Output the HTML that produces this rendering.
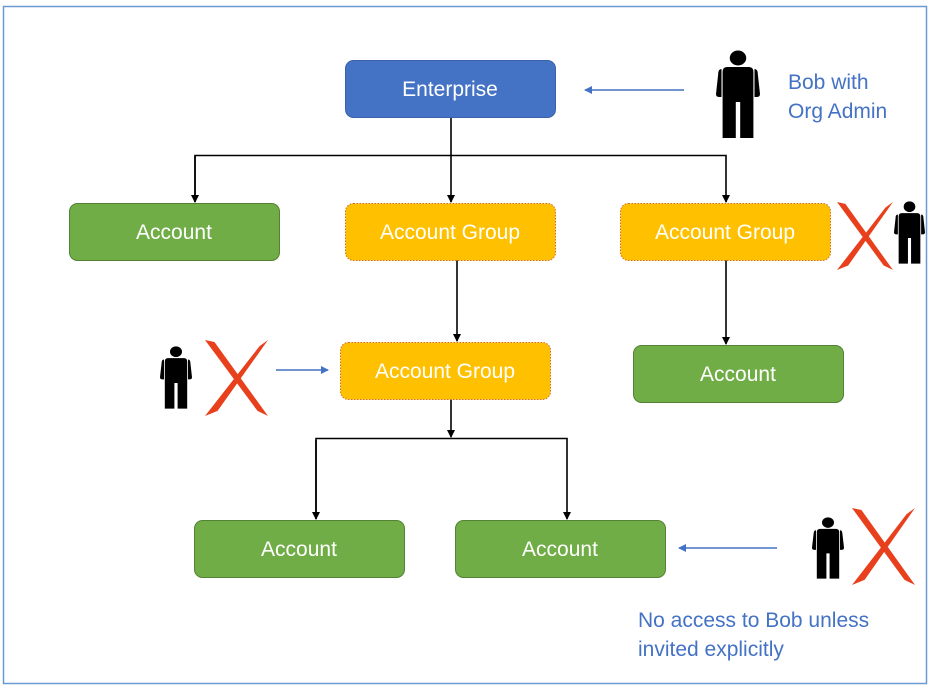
<!DOCTYPE html>
<html><head><meta charset="utf-8"><style>
html,body{margin:0;padding:0;background:#fff;}
svg{display:block;}
text{font-family:"Liberation Sans",sans-serif;}
</style></head><body>
<svg width="934" height="692" viewBox="0 0 934 692" xmlns="http://www.w3.org/2000/svg">
<defs>
<symbol id="p" viewBox="0 0 40 90" preserveAspectRatio="none">
<circle cx="20" cy="8" r="7.5" fill="#000"/>
<path d="M10,17 H30 Q34,17 34,22 L34,88 L22,88 L22,52 L18,52 L18,88 L6,88 L6,22 Q6,17 10,17 Z" fill="#000"/>
<path d="M5,19 Q2,19 2,24 L0,44 Q0,47 3,47 L5,47 Z M35,19 Q38,19 38,24 L40,44 Q40,47 37,47 L35,47 Z" fill="#000"/>
</symbol>
<symbol id="x" viewBox="0 0 60 75" preserveAspectRatio="none">
<polygon points="0,0 9,2 60,75 50,70" fill="#e8401c"/>
<polygon points="60,0 52,6 0,75 12,70" fill="#e8401c"/>
</symbol>
<marker id="ab" markerWidth="8" markerHeight="8" refX="7" refY="4" orient="auto" markerUnits="userSpaceOnUse"><path d="M0,0 L8,4 L0,8 Z" fill="#000"/></marker>
<marker id="ub" markerWidth="8" markerHeight="8" refX="7" refY="4" orient="auto" markerUnits="userSpaceOnUse"><path d="M0,0 L8,4 L0,8 Z" fill="#4472c4"/></marker>
</defs>
<rect x="3.5" y="6.5" width="923" height="677" fill="none" stroke="#6b9bd2" stroke-width="1.5"/>

<g stroke="#000" stroke-width="1.6" fill="none">
<line x1="451" y1="117" x2="451" y2="155"/>
<polyline points="195,202 195,155.5 726,155.5 726,202" marker-end="url(#ab)"/>
<line x1="195" y1="156" x2="195" y2="202" marker-end="url(#ab)"/>
<line x1="451" y1="155" x2="451" y2="202" marker-end="url(#ab)"/>
<line x1="457" y1="260" x2="457" y2="341" marker-end="url(#ab)"/>
<line x1="726" y1="260" x2="726" y2="344" marker-end="url(#ab)"/>
<line x1="451" y1="399" x2="451" y2="437" marker-end="url(#ab)"/>
<polyline points="316,519 316,438.5 567,438.5 567,519" marker-end="url(#ab)"/>
<line x1="316" y1="440" x2="316" y2="519" marker-end="url(#ab)"/>
</g>
<g stroke="#4472c4" stroke-width="1.6">
<line x1="684" y1="90" x2="585" y2="90" marker-end="url(#ub)"/>
<line x1="276" y1="370" x2="328" y2="370" marker-end="url(#ub)"/>
<line x1="777" y1="548" x2="679" y2="548" marker-end="url(#ub)"/>
</g>

<rect x="345.5" y="60.5" width="210" height="57" rx="8" fill="#4472c4" stroke="#3a62a8"/>
<rect x="69.5" y="203.5" width="210" height="57" rx="8" fill="#70ad47" stroke="#548235"/>
<rect x="345.5" y="203.5" width="210" height="57" rx="8" fill="#ffc000" stroke="#d46a2a" stroke-dasharray="1.5 1.5"/>
<rect x="620.5" y="203.5" width="210" height="57" rx="8" fill="#ffc000" stroke="#d46a2a" stroke-dasharray="1.5 1.5"/>
<rect x="340.5" y="342.5" width="210" height="57" rx="8" fill="#ffc000" stroke="#d46a2a" stroke-dasharray="1.5 1.5"/>
<rect x="633.5" y="345.5" width="210" height="57" rx="8" fill="#70ad47" stroke="#548235"/>
<rect x="194.5" y="520.5" width="210" height="57" rx="8" fill="#70ad47" stroke="#548235"/>
<rect x="455.5" y="520.5" width="210" height="57" rx="8" fill="#70ad47" stroke="#548235"/>

<g fill="#fff" font-size="21" text-anchor="middle">
<text x="450" y="96">Enterprise</text>
<text x="174" y="239">Account</text>
<text x="450" y="239">Account Group</text>
<text x="725" y="239">Account Group</text>
<text x="445" y="378">Account Group</text>
<text x="738" y="381">Account</text>
<text x="299" y="556">Account</text>
<text x="560" y="556">Account</text>
</g>

<g fill="#4472c4" font-size="21">
<text x="788" y="89">Bob with</text>
<text x="788" y="118">Org Admin</text>
<text x="638" y="627">No access to Bob unless</text>
<text x="638" y="656">invited explicitly</text>
</g>

<use href="#p" x="716" y="50" width="44" height="90"/>
<use href="#p" x="894" y="201" width="31" height="64"/>
<use href="#p" x="160" y="346" width="32" height="64"/>
<use href="#p" x="812" y="517" width="32" height="63"/>
<use href="#x" x="837" y="202" width="56" height="68"/>
<use href="#x" x="205" y="340" width="63" height="76"/>
<use href="#x" x="852" y="508" width="63" height="77"/>
</svg>
</body></html>
